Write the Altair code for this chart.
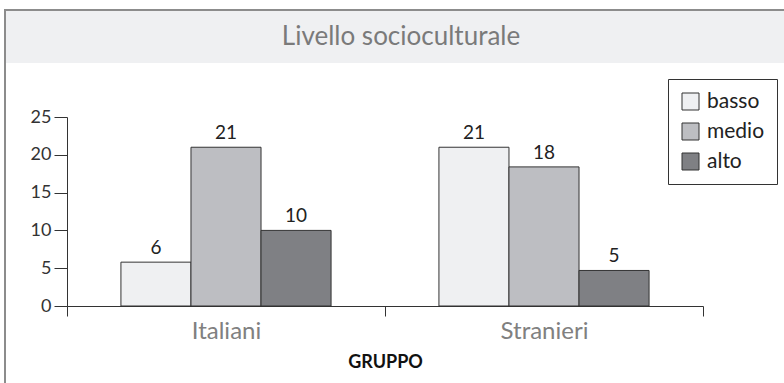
import altair as alt
import pandas as pd

# Data
gruppi = ["Italiani", "Stranieri"]
livelli = ["basso", "medio", "alto"]
basso = [5.8, 21.0]
medio = [21.0, 18.4]
alto = [10.0, 4.7]
colori = ["#eff0f2", "#bdbec2", "#7f8084"]
titolo = "Livello socioculturale"
y_ticks = [0, 5, 10, 15, 20, 25]

rows = []
for i, g in enumerate(gruppi):
    for liv, serie in zip(livelli, [basso, medio, alto]):
        rows.append({"gruppo": g, "livello": liv, "valore": serie[i]})
df = pd.DataFrame(rows)

FONT = "Lato"
W, H = 636, 189

one = pd.DataFrame({"k": [0]})

frame = alt.Chart(one).mark_rect(fill=None, stroke="#8c8c8c", strokeWidth=2).encode(
    x=alt.value(-62), x2=alt.value(735), y=alt.value(-107), y2=alt.value(300)
)
band = alt.Chart(one).mark_rect(fill="#eff0f2", stroke=None).encode(
    x=alt.value(-61), x2=alt.value(735), y=alt.value(-106), y2=alt.value(-54)
)
title = alt.Chart(one).mark_text(
    text=titolo, font=FONT, fontSize=26, color="#7a7a7a", baseline="middle", align="center"
).encode(x=alt.value(334), y=alt.value(-80))

x_enc = alt.X(
    "gruppo:N",
    sort=gruppi,
    scale=alt.Scale(paddingInner=0, paddingOuter=0),
    axis=alt.Axis(
        title="GRUPPO",
        tickBand="extent",
        tickSize=10,
        tickColor="#333333",
        domainColor="#333333",
        labelColor="#808080",
        labelFontSize=24,
        labelFont=FONT,
        labelPadding=3,
        labelAngle=0,
        titleFont=FONT,
        titleFontSize=18,
        titleFontWeight="bold",
        titleColor="#111111",
        titlePadding=10,
        grid=False,
    ),
)
xo_enc = alt.XOffset("livello:N", sort=livelli, scale=alt.Scale(paddingInner=0, paddingOuter=0.77))
y_enc = alt.Y(
    "valore:Q",
    scale=alt.Scale(domain=[0, 25], nice=False),
    axis=alt.Axis(
        title=None,
        values=y_ticks,
        tickCount=6,
        labelOverlap=False,
        tickSize=13,
        tickColor="#333333",
        domainColor="#333333",
        labelColor="#333333",
        labelFontSize=18,
        labelFont=FONT,
        labelPadding=3,
        grid=False,
    ),
)

bars = alt.Chart(df).mark_bar(stroke="#333333", strokeWidth=1).encode(
    x=x_enc,
    xOffset=xo_enc,
    y=y_enc,
    color=alt.Color(
        "livello:N",
        sort=livelli,
        scale=alt.Scale(domain=livelli, range=colori),
        legend=alt.Legend(
            title=None,
            orient="none",
            legendX=601,
            legendY=-38,
            symbolType="square",
            symbolSize=289,
            symbolStrokeColor="#333333",
            symbolStrokeWidth=1,
            labelFont=FONT,
            labelFontSize=21,
            labelColor="#222222",
            labelOffset=6,
            rowPadding=8,
            padding=12,
            strokeColor="#333333",
            fillColor="white",
        ),
    ),
)

labels = alt.Chart(df).mark_text(
    font=FONT, fontSize=19, color="#222222", baseline="bottom", dy=-4
).encode(
    x=x_enc,
    xOffset=xo_enc,
    y=y_enc,
    text=alt.Text("valore:Q", format=".0f"),
)

chart = alt.layer(frame, band, title, bars, labels).properties(
    width=W,
    height=H,
    autosize=alt.AutoSizeParams(type="none"),
    padding={"left": 67, "top": 117, "right": 81, "bottom": 77},
    background="white",
).configure_view(stroke=None)

chart.save("out.html", embed_options={"renderer": "svg", "actions": False})
